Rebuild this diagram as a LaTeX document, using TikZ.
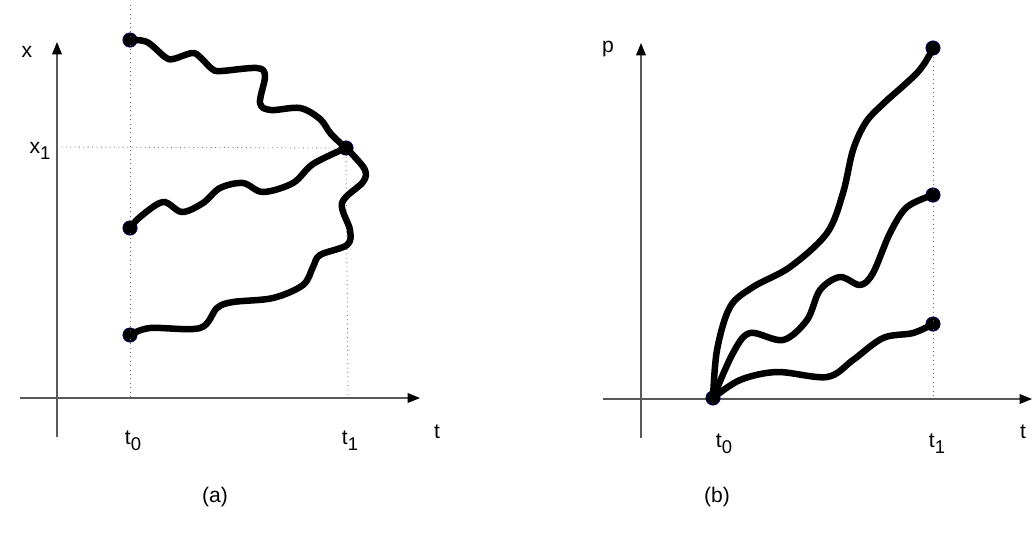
\documentclass[tikz,border=0pt]{standalone}
\usepackage{fontspec}
\setmainfont{Liberation Sans}
\usepackage{tikz}
\usetikzlibrary{arrows.meta}
\newcommand{\sublbl}[2]{#1\raisebox{-0.55ex}{\fontsize{10.5}{11}\selectfont #2}}

\begin{document}
\begin{tikzpicture}[
    x=0.02cm, y=-0.02cm,
    axis/.style={draw=black!65, line width=0.7pt, -{Triangle[length=7pt, width=5.5pt, black]}},
    guide/.style={draw=black!55, line width=0.5pt, dotted},
    path/.style={line width=3.7pt, line cap=round, line join=round, smooth, tension=0.55},
    dot/.style={circle, fill=black, draw=blue!50!black, line width=0.3pt, inner sep=0pt, minimum size=0.29cm},
    lbl/.style={font=\fontsize{12}{14}\selectfont, inner sep=1pt}
]
    \useasboundingbox (0,0) rectangle (1033,539);

    % panel (a): axes
    \coordinate (ax0) at (57,437);
    \coordinate (ax1) at (57,42);
    \coordinate (at0) at (20,398);
    \coordinate (at1) at (420,398);
    \draw[axis] (ax0) -- (ax1);
    \draw[axis] (at0) -- (at1);

    % panel (a): start and end points
    \node[dot] (a1) at (130,40) {};
    \node[dot] (a2) at (130,228) {};
    \node[dot] (a3) at (130,335) {};
    \node[dot] (ae) at (346,148) {};

    % panel (a): guides
    \coordinate (g0top) at (130,5);
    \coordinate (g0bot) at (130,398);
    \coordinate (g1bot) at (348,398);
    \coordinate (gx1) at (57,147);
    \draw[guide] (g0top) -- (g0bot);
    \draw[guide] (ae.center) -- (g1bot);
    \draw[guide] (gx1) -- (ae.center);

    % panel (a): paths
    \draw[path] plot coordinates {(a1.center) (147,42) (165,57) (173,59) (192,53) (200,57) (212,69) (221,71) (257,68) (265,76) (260,103) (271,110) (300,108) (320,119) (331,134) (ae.center)};
    \draw[path] plot coordinates {(a2.center) (140,217) (163,202) (182,212) (203,203) (220,188) (243,183) (263,192) (293,183) (313,164) (ae.center)};
    \draw[path] plot coordinates {(a3.center) (150,328) (200,328) (217,308) (233,302) (273,298) (303,285) (313,267) (320,255) (347,245) (350,230) (342,203) (363,182) (365,170) (353,155) (ae.center)};

    % panel (a): labels
    \node[lbl] (lx) at (27,52) {x};
    \node[lbl] (lx1) at (40,151) {\sublbl{x}{1}};
    \node[lbl] (lat0) at (133,441) {\sublbl{t}{0}};
    \node[lbl] (lat1) at (350,441) {\sublbl{t}{1}};
    \node[lbl] (lat) at (437,432) {t};
    \node[lbl] (capa) at (215,497) {(a)};

    % panel (b): axes
    \coordinate (bp0) at (641,438);
    \coordinate (bp1) at (641,43);
    \coordinate (bt0) at (603,399);
    \coordinate (bt1) at (1032,399);
    \draw[axis] (bp0) -- (bp1);
    \draw[axis] (bt0) -- (bt1);

    % panel (b): start and end points
    \node[dot] (b0) at (713,398) {};
    \node[dot] (b1) at (933,48) {};
    \node[dot] (b2) at (933,195) {};
    \node[dot] (b3) at (933,324) {};

    % panel (b): guide
    \coordinate (h1bot) at (933,399);
    \draw[guide] (b1.center) -- (h1bot);

    % panel (b): paths
    \draw[path] plot coordinates {(b0.center) (717,350) (730,307) (753,287) (790,267) (827,233) (843,193) (853,150) (866,122) (884,103) (902,87) (917,73) (926,61) (b1.center)};
    \draw[path] plot coordinates {(b0.center) (733,353) (750,333) (783,340) (807,320) (820,290) (840,277) (860,285) (873,273) (890,233) (907,207) (b2.center)};
    \draw[path] plot coordinates {(b0.center) (740,380) (777,372) (827,377) (853,360) (883,338) (913,333) (b3.center)};

    % panel (b): labels
    \node[lbl] (lp) at (608,49) {p};
    \node[lbl] (lbt0) at (724,444) {\sublbl{t}{0}};
    \node[lbl] (lbt1) at (937,444) {\sublbl{t}{1}};
    \node[lbl] (lbt) at (1023,432) {t};
    \node[lbl] (capb) at (717,497) {(b)};
\end{tikzpicture}
\end{document}
